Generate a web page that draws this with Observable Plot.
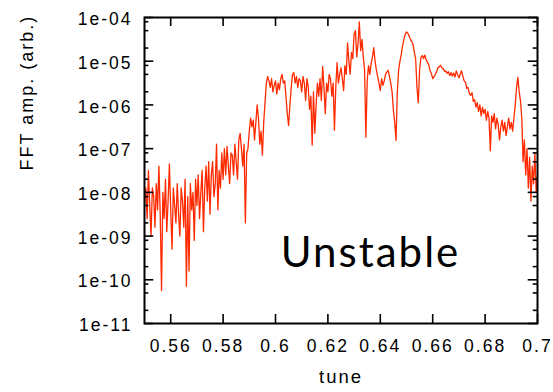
<!DOCTYPE html>
<html><head><meta charset="utf-8">
<script src="https://cdn.jsdelivr.net/npm/d3@7"></script>
<script src="https://cdn.jsdelivr.net/npm/@observablehq/plot@0.6"></script>
<style>
html,body{margin:0;padding:0;background:#fff;}
#chart svg text{letter-spacing:2px;}
#chart g[aria-label="unstable"] text{letter-spacing:0px;}
</style></head><body><div id="chart"></div>
<script>
// sample grid of the spectrum
const tuneStart = 0.55;
const tuneStep = 0.0005;
// log10 of FFT amplitude at each sample
const logAmp = [
-8.2,-7.9,-8.6,-7.5,-8.3,-9.0,-7.9,-8.1,-8.8,-7.8,
-8.4,-7.4,-8.5,-10.25,-8.0,-8.6,-7.7,-8.9,-8.2,-7.35,
-8.4,-9.3,-7.9,-8.3,-8.7,-7.8,-8.5,-9.0,-7.9,-8.2,
-8.8,-7.7,-10.15,-8.1,-9.8,-7.8,-8.4,-8.0,-9.1,-7.7,
-8.3,-7.6,-8.6,-8.0,-7.5,-8.9,-7.9,-7.4,-8.2,-7.3,
-8.5,-7.6,-7.3,-8.1,-7.8,-6.9,-8.4,-7.5,-7.9,-7.1,
-7.7,
-7.0,-7.6,-6.95,-7.4,-7.8,-7.1,-7.15,-7.6,-6.9,-7.3,
-7.7,-6.8,-6.65,-7.0,-7.4,-6.9,-8.7,-7.1,-7.0,-6.6,
-6.3,-6.5,-6.35,-6.8,-6.4,-6.0,-6.3,-6.9,-6.6,-7.15,
-6.4,-5.95,-5.5,-5.35,-5.45,
-5.6,-5.4,-5.7,-5.55,-5.45,-5.75,-5.5,-5.65,-5.4,-5.3,
-5.5,-5.45,-5.8,-6.2,-6.47,-6.0,-5.6,-5.3,-5.26,-5.5,
-5.35,-5.6,-5.4,-5.45,-5.7,-5.35,-5.5,-5.9,-5.4,-5.6,
-6.1,-5.8,-6.92,-5.7,-6.65,-6.0,-5.5,-5.8,-5.4,-5.9,
-5.12,-5.6,-6.2,-5.5,-5.7,
-5.3,-5.4,-5.8,-5.5,-6.58,-5.6,-5.03,-5.5,-5.3,-5.15,
-5.4,-5.67,-5.1,-5.3,-4.58,-5.0,-5.3,-4.8,-4.94,-4.38,
-4.3,-4.9,-4.6,-4.1,-4.76,-4.5,-4.9,-5.2,-6.74,-5.44,
-5.1,-5.3,-5.06,-4.9,-4.69,-5.0,-5.2,-5.35,-5.5,-5.67,
-5.4,-5.55,-5.45,-5.3,-5.25,-5.21,-5.35,-5.5,-5.7,-6.12,
-6.4,-6.81,-5.7,-5.2,-5.0,-4.85,-4.65,-4.5,-4.38,-4.33,
-4.36,-4.42,-4.5,-4.55,-4.62,-4.8,-4.95,-5.6,-5.95,-5.2,
-4.92,-4.87,-4.94,-4.86,-4.97,-5.02,-5.08,-5.22,-5.28,-5.4,
-5.36,-5.3,-5.24,-5.15,-5.13,-5.09,-5.15,-5.17,-5.23,-5.22,
-5.28,-5.24,-5.33,-5.26,-5.34,-5.27,-5.36,-5.22,-5.31,-5.38,
-5.3,-5.22,-5.34,-5.45,-5.48,-5.62,-5.6,-5.74,-5.78,-5.72,
-5.92,-5.88,-6.05,-5.95,-6.15,-6.0,-6.25,-6.05,-6.2,-6.1,
-6.35,-6.15,-6.3,-7.05,-6.25,-6.4,-6.2,-6.55,-6.3,-6.45,
-6.8,-6.5,-6.35,-6.6,-6.4,-6.7,-6.5,-6.3,-6.55,-6.4,
-6.6,-6.3,-6.0,-5.6,-5.37,-5.7,-5.9,-6.3,-7.3,-6.8,
-7.6,-7.0,-7.9,-7.2,-8.2,-7.4,-7.8,-7.1,-8.0,-7.6
];
const xTicks = [0.56, 0.58, 0.60, 0.62, 0.64, 0.66, 0.68, 0.70];
const xTickLabels = ["0.56", "0.58", "0.6", "0.62", "0.64", "0.66", "0.68", "0.7"];
const yTicks = [1e-4, 1e-5, 1e-6, 1e-7, 1e-8, 1e-9, 1e-10, 1e-11];
const yTickLabels = ["1e-04", "1e-05", "1e-06", "1e-07", "1e-08", "1e-09", "1e-10", "1e-11"];
const yMinorMantissa = [2, 5, 8];
const xLabel = "tune";
const yLabel = "FFT amp. (arb.)";
const annotation = "Unstable";

const data = logAmp.map((v, i) => ({tune: tuneStart + i * tuneStep, amp: Math.pow(10, v)}));
const yMinor = [];
for (const d of yTicks.slice(1)) for (const m of yMinorMantissa) yMinor.push(d * m);

const W = 553, H = 392, mL = 144, mR = 16, mT = 17, mB = 69;
const fw = W - mL - mR, fh = H - mT - mB;
const red = "#ff2a00";

const chart = Plot.plot({
  width: W, height: H,
  marginLeft: mL, marginRight: mR, marginTop: mT, marginBottom: mB,
  style: {fontFamily: "'Liberation Sans', Arial, sans-serif", fontSize: "17.5px", color: "#000", background: "#fff"},
  x: {domain: [0.55, 0.70]},
  y: {type: "log", domain: [1e-11, 1e-4]},
  marks: [
    Plot.line(data, {x: "tune", y: "amp", stroke: red, strokeWidth: 1.3}),
    Plot.tickY(yTicks, {y: d => d, insetRight: fw - 9.3, strokeWidth: 1.6, stroke: "#000"}),
    Plot.tickY(yTicks, {y: d => d, insetLeft: fw - 9.3, strokeWidth: 1.6, stroke: "#000"}),
    Plot.tickY(yMinor, {y: d => d, insetRight: fw - 4.3, strokeWidth: 1.6, stroke: "#000"}),
    Plot.tickY(yMinor, {y: d => d, insetLeft: fw - 4.3, strokeWidth: 1.6, stroke: "#000"}),
    Plot.tickX(xTicks, {x: d => d, insetTop: fh - 9, strokeWidth: 1.6, stroke: "#000"}),
    Plot.tickX(xTicks, {x: d => d, insetBottom: fh - 9, strokeWidth: 1.6, stroke: "#000"}),
    Plot.frame({stroke: "#000", strokeWidth: 2}),
    Plot.axisY(yTicks, {tickSize: 0, tickPadding: 12, dy: 2, label: null,
      tickFormat: d => yTickLabels[yTicks.indexOf(d)]}),
    Plot.axisX(xTicks, {tickSize: 0, tickPadding: 16, label: null,
      tickFormat: d => xTickLabels[xTicks.indexOf(d)]}),
    Plot.text([yLabel], {frameAnchor: "left", dx: -117, rotate: -90, fontSize: 18}),
    Plot.text([xLabel], {frameAnchor: "bottom", dy: 59, fontSize: 18.5}),
    Plot.text([annotation], {frameAnchor: "bottom", dx: 29.5, dy: -56.5, fontSize: 42,
      fontFamily: "Lato, 'Open Sans', sans-serif", ariaLabel: "unstable"})
  ]
});
document.getElementById("chart").appendChild(chart);
</script></body></html>
